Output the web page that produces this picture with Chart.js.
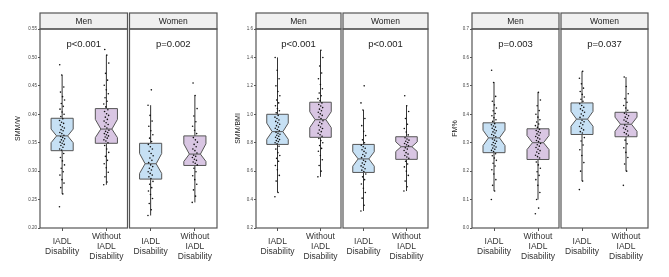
<!DOCTYPE html>
<html><head><meta charset="utf-8">
<script src="https://cdn.jsdelivr.net/npm/chart.js@4/dist/chart.umd.min.js"></script>
<style>
html,body{margin:0;padding:0;background:#fff;width:669px;height:277px;overflow:hidden;}
canvas{position:absolute;top:0;}
</style></head><body>
<canvas id="c1" width="221" height="277" style="left:0px"></canvas>
<canvas id="c2" width="207" height="277" style="left:225px"></canvas>
<canvas id="c3" width="207" height="277" style="left:445px"></canvas>
<script>
// ---------- categories ----------
const xLabels = [['IADL','Disability'],['Without','IADL','Disability'],['IADL','Disability'],['Without','IADL','Disability']];
const facetNames = ['Men','Women'];

// ---------- SMM/W ----------
const smmwP = ['p<0.001','p=0.002'];
const smmwQ1 = [0.336, 0.349, 0.286, 0.310];
const smmwMed = [0.362, 0.374, 0.313, 0.330];
const smmwQ3 = [0.393, 0.410, 0.349, 0.362];
const smmwLo = [0.260, 0.276, 0.222, 0.245];
const smmwHi = [0.469, 0.504, 0.416, 0.433];
const smmwNotchLo = [0.350, 0.359, 0.296, 0.317];
const smmwNotchHi = [0.374, 0.391, 0.331, 0.348];
const smmwMenIadl = [0.2375,0.26,0.271,0.279,0.285,0.293,0.299,0.305,0.311,0.318,0.324,0.331,
  0.337,0.339,0.342,0.345,0.347,0.349,0.351,0.353,0.355,0.357,0.359,0.361,
  0.363,0.366,0.368,0.371,0.373,0.376,0.378,0.381,0.384,0.386,0.389,0.392,
  0.396,0.4,0.404,0.409,0.414,0.419,0.425,0.431,0.439,0.448,0.469,0.487];
const smmwMenWithout = [0.276,0.281,0.29,0.298,0.306,0.313,0.319,0.326,0.333,0.339,0.345,
  0.35,0.353,0.355,0.358,0.36,0.362,0.364,0.366,0.368,0.37,0.372,
  0.376,0.379,0.382,0.385,0.388,0.391,0.395,0.398,0.401,0.405,0.408,
  0.413,0.418,0.423,0.429,0.436,0.443,0.451,0.46,0.472,0.49,0.504,0.514];
const smmwWomenIadl = [0.222,0.232,0.243,0.252,0.259,0.265,0.271,0.277,0.282,
  0.287,0.29,0.293,0.296,0.299,0.302,0.305,0.308,0.311,
  0.315,0.319,0.323,0.327,0.331,0.335,0.339,0.343,0.347,
  0.352,0.358,0.364,0.371,0.379,0.388,0.398,0.416,0.443];
const smmwWomenWithout = [0.245,0.256,0.267,0.277,0.285,0.292,0.299,0.305,
  0.311,0.314,0.316,0.319,0.321,0.324,0.326,0.328,
  0.332,0.336,0.339,0.343,0.347,0.351,0.355,0.359,
  0.366,0.372,0.379,0.387,0.397,0.41,0.433,0.455];

// ---------- SMM/BMI ----------
const bmiP = ['p<0.001','p<0.001'];
const bmiQ1 = [0.788, 0.838, 0.591, 0.683];
const bmiMed = [0.878, 0.962, 0.686, 0.772];
const bmiQ3 = [1.000, 1.085, 0.788, 0.842];
const bmiLo = [0.45, 0.56, 0.32, 0.46];
const bmiHi = [1.40, 1.45, 1.03, 1.06];
const bmiNotchLo = [0.824, 0.906, 0.635, 0.738];
const bmiNotchHi = [0.938, 1.018, 0.736, 0.806];
const bmiMenIadl = [0.42,0.45,0.53,0.57,0.61,0.64,0.67,0.69,0.71,0.73,0.755,0.775,
  0.792,0.8,0.808,0.815,0.822,0.83,0.838,0.845,0.852,0.86,0.866,0.873,
  0.884,0.893,0.902,0.911,0.92,0.93,0.94,0.95,0.96,0.97,0.98,0.992,
  1.01,1.025,1.04,1.06,1.08,1.1,1.13,1.16,1.2,1.25,1.31,1.40];
const bmiMenWithout = [0.56,0.6,0.64,0.68,0.71,0.74,0.76,0.78,0.8,0.815,0.83,
  0.845,0.856,0.867,0.878,0.889,0.9,0.911,0.922,0.933,0.944,0.955,
  0.97,0.981,0.992,1.003,1.014,1.025,1.036,1.047,1.058,1.069,1.08,
  1.095,1.11,1.13,1.15,1.18,1.21,1.25,1.29,1.34,1.4,1.45];
const bmiWomenIadl = [0.32,0.36,0.41,0.45,0.48,0.51,0.54,0.56,0.58,
  0.597,0.607,0.617,0.627,0.637,0.647,0.657,0.667,0.677,
  0.695,0.706,0.717,0.728,0.739,0.75,0.761,0.772,0.783,
  0.8,0.82,0.85,0.88,0.92,0.97,1.03,1.08,1.2];
const bmiWomenWithout = [0.46,0.49,0.53,0.57,0.6,0.63,0.65,0.67,
  0.69,0.7,0.71,0.72,0.73,0.745,0.755,0.765,
  0.778,0.786,0.794,0.802,0.81,0.818,0.826,0.835,
  0.855,0.875,0.9,0.93,0.97,1.02,1.06,1.13];

// ---------- FM% ----------
const fmP = ['p=0.003','p=0.037'];
const fmQ1 = [0.265, 0.241, 0.329, 0.321];
const fmMed = [0.317, 0.300, 0.383, 0.365];
const fmQ3 = [0.370, 0.349, 0.440, 0.407];
const fmLo = [0.13, 0.10, 0.165, 0.20];
const fmHi = [0.512, 0.477, 0.551, 0.531];
const fmNotchLo = [0.290, 0.276, 0.358, 0.340];
const fmNotchHi = [0.344, 0.325, 0.410, 0.390];
const fmMenIadl = [0.1,0.13,0.15,0.17,0.19,0.205,0.218,0.228,0.238,0.246,0.254,0.261,
  0.269,0.273,0.277,0.281,0.285,0.289,0.293,0.297,0.301,0.305,0.309,0.313,
  0.321,0.325,0.329,0.334,0.338,0.342,0.346,0.351,0.355,0.359,0.363,0.367,
  0.375,0.381,0.388,0.395,0.403,0.412,0.422,0.433,0.446,0.463,0.512,0.555];
const fmMenWithout = [0.05,0.07,0.1,0.125,0.15,0.17,0.185,0.198,0.21,0.222,0.232,
  0.246,0.251,0.256,0.262,0.267,0.272,0.277,0.283,0.288,0.293,0.297,
  0.304,0.308,0.313,0.317,0.322,0.326,0.331,0.335,0.339,0.343,0.347,
  0.354,0.36,0.366,0.373,0.381,0.39,0.4,0.413,0.43,0.45,0.477];
const fmWomenIadl = [0.135,0.165,0.2,0.23,0.255,0.275,0.292,0.306,0.318,
  0.334,0.339,0.345,0.351,0.357,0.363,0.369,0.374,0.379,
  0.389,0.395,0.401,0.407,0.413,0.419,0.425,0.431,0.437,
  0.446,0.453,0.461,0.47,0.48,0.492,0.507,0.527,0.551];
const fmWomenWithout = [0.15,0.2,0.225,0.248,0.266,0.282,0.296,0.309,
  0.326,0.331,0.336,0.341,0.347,0.352,0.357,0.362,
  0.37,0.375,0.38,0.385,0.39,0.395,0.4,0.404,
  0.414,0.422,0.431,0.442,0.455,0.472,0.498,0.531];

// ---------- styling ----------
const FONT = "'Liberation Sans', Arial, sans-serif";
const boxFill = ['#c6e0f4', '#d9c6e3', '#c6e0f4', '#d9c6e3'];
const frameColor = '#555555';
Chart.defaults.font.family = FONT;

function jitter(i) { return ((i * 0.6180339887) % 1 - 0.5) * 0.12; }

function makePanel(id, p) {
  const boxPlugin = {
    id: 'box_' + id,
    beforeDatasetsDraw(chart) {
      const {ctx, scales: {x, y}} = chart;
      ctx.save();
      for (let i = 0; i < 4; i++) {
        const cx = x.getPixelForValue(i);
        const hw = x.getPixelForValue(i + 0.25) - cx;
        const nw = hw / 2;
        const yq1 = y.getPixelForValue(p.q1[i]), yq3 = y.getPixelForValue(p.q3[i]);
        const ym = y.getPixelForValue(p.med[i]);
        const ynl = y.getPixelForValue(p.nlo[i]), ynh = y.getPixelForValue(p.nhi[i]);
        const ylo = y.getPixelForValue(p.lo[i]), yhi = y.getPixelForValue(p.hi[i]);
        ctx.strokeStyle = '#333'; ctx.lineWidth = 1;
        ctx.beginPath();
        ctx.moveTo(cx, yhi); ctx.lineTo(cx, yq3);
        ctx.moveTo(cx, yq1); ctx.lineTo(cx, ylo);
        ctx.stroke();
        ctx.beginPath();
        ctx.moveTo(cx - hw, yq3); ctx.lineTo(cx + hw, yq3); ctx.lineTo(cx + hw, ynh);
        ctx.lineTo(cx + nw, ym); ctx.lineTo(cx + hw, ynl); ctx.lineTo(cx + hw, yq1);
        ctx.lineTo(cx - hw, yq1); ctx.lineTo(cx - hw, ynl); ctx.lineTo(cx - nw, ym);
        ctx.lineTo(cx - hw, ynh); ctx.closePath();
        ctx.fillStyle = boxFill[i]; ctx.fill();
        ctx.strokeStyle = '#555'; ctx.lineWidth = 1; ctx.stroke();
        ctx.beginPath(); ctx.moveTo(cx - nw, ym); ctx.lineTo(cx + nw, ym); ctx.stroke();
      }
      ctx.restore();
    },
    afterDraw(chart) {
      const {ctx, chartArea: a} = chart;
      const mid = (a.left + a.right) / 2;
      const frames = [[a.left, mid - 1], [mid + 1, a.right]];
      ctx.save();
      frames.forEach((f, k) => {
        ctx.strokeStyle = frameColor; ctx.lineWidth = 1.2;
        ctx.fillStyle = '#f0f0f0';
        ctx.fillRect(f[0], 13, f[1] - f[0], a.top - 13);
        ctx.strokeRect(f[0], 13, f[1] - f[0], a.top - 13);
        ctx.strokeRect(f[0], a.top, f[1] - f[0], a.bottom - a.top);
        ctx.fillStyle = '#222'; ctx.textAlign = 'center'; ctx.textBaseline = 'middle';
        ctx.font = "8.5px " + FONT;
        ctx.fillText(facetNames[k], (f[0] + f[1]) / 2, 21.5);
        ctx.font = "9.5px " + FONT;
        ctx.fillText(p.pv[k], (f[0] + f[1]) / 2, a.top + 15);
      });
      ctx.restore();
    }
  };
  const datasets = p.pts.map((arr, g) => ({
    type: 'scatter',
    data: arr.map((v, i) => ({x: g + jitter(i), y: v})),
    pointRadius: 0.8, pointBorderWidth: 0,
    pointBackgroundColor: '#111', pointBorderColor: '#111'
  }));
  new Chart(document.getElementById(id), {
    type: 'scatter',
    data: {datasets},
    options: {
      responsive: false, animation: false, devicePixelRatio: 1,
      layout: {padding: {top: 29, right: 1, left: 0, bottom: 0}},
      plugins: {legend: {display: false}, tooltip: {enabled: false}},
      scales: {
        x: {
          type: 'linear', min: -0.5, max: 3.5,
          afterBuildTicks: s => { s.ticks = [0, 1, 2, 3].map(v => ({value: v})); },
          afterFit: s => { s.height = 49; },
          ticks: {callback: v => xLabels[v], autoSkip: false, maxRotation: 0, crossAlign: 'center',
            padding: 6, color: '#333', font: {size: 8.5, lineHeight: 1.18}},
          grid: {drawOnChartArea: false, tickLength: 3, color: '#555'},
          border: {display: false}
        },
        y: {
          min: p.min, max: p.max,
          afterFit: s => { s.width = p.yw; },
          ticks: {stepSize: p.step, callback: v => v.toFixed(p.dec), padding: 1, color: '#444',
            font: {size: 4.5}},
          grid: {drawOnChartArea: false, tickLength: 2, color: '#555'},
          border: {display: false},
          title: {display: true, text: p.title, color: '#222', font: {size: 7}, padding: {top: p.tp, bottom: 0}}
        }
      }
    },
    plugins: [boxPlugin]
  });
}

makePanel('c1', {pv: smmwP, q1: smmwQ1, med: smmwMed, q3: smmwQ3, lo: smmwLo, hi: smmwHi,
  nlo: smmwNotchLo, nhi: smmwNotchHi,
  pts: [smmwMenIadl, smmwMenWithout, smmwWomenIadl, smmwWomenWithout],
  min: 0.20, max: 0.55, step: 0.05, dec: 2, yw: 40, title: 'SMM/W', tp: 14});
makePanel('c2', {pv: bmiP, q1: bmiQ1, med: bmiMed, q3: bmiQ3, lo: bmiLo, hi: bmiHi,
  nlo: bmiNotchLo, nhi: bmiNotchHi,
  pts: [bmiMenIadl, bmiMenWithout, bmiWomenIadl, bmiWomenWithout],
  min: 0.2, max: 1.6, step: 0.2, dec: 1, yw: 31, title: 'SMM/BMI', tp: 9});
makePanel('c3', {pv: fmP, q1: fmQ1, med: fmMed, q3: fmQ3, lo: fmLo, hi: fmHi,
  nlo: fmNotchLo, nhi: fmNotchHi,
  pts: [fmMenIadl, fmMenWithout, fmWomenIadl, fmWomenWithout],
  min: 0.0, max: 0.7, step: 0.1, dec: 1, yw: 27, title: 'FM%', tp: 6});
</script>
</body></html>
